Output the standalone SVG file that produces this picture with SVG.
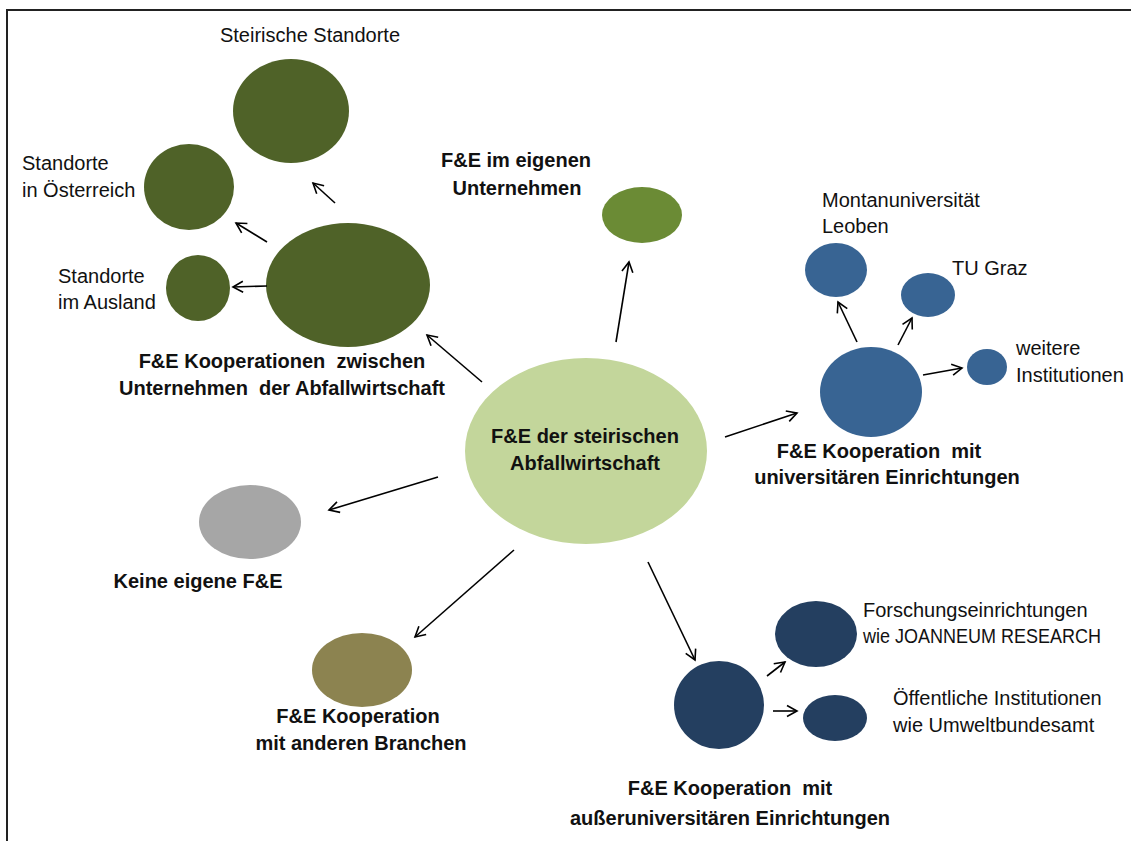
<svg xmlns="http://www.w3.org/2000/svg" width="1131" height="841" viewBox="0 0 1131 841">
<style>
  .t { font-family: "Liberation Sans", Arial, sans-serif; font-size: 20px; fill: #111; }
  .b { font-family: "Liberation Sans", Arial, sans-serif; font-size: 20px; font-weight: bold; fill: #111; }
  .m { text-anchor: middle; }
  .dg { fill: #4f6228; }
  .lg { fill: #6b8b35; }
  .bl { fill: #386493; }
  .nv { fill: #243f60; }
  .conn line { stroke: #000; stroke-width: 1.6; marker-end: url(#ah); }
</style>
<defs>
  <marker id="ah" viewBox="-12 -7 14 14" markerWidth="14" markerHeight="14" refX="0" refY="0" orient="auto" markerUnits="userSpaceOnUse">
    <path d="M-10,-5.5 L0,0 L-10,5.5" fill="none" stroke="#000" stroke-width="1.6"/>
  </marker>
</defs>
<rect x="0" y="0" width="1131" height="841" fill="#fff"/>
<rect x="7" y="10" width="1200" height="900" fill="none" stroke="#222" stroke-width="2"/>

<g id="center">
  <ellipse cx="586" cy="451" rx="121" ry="93" fill="#c3d69b"/>
  <text class="b m" x="585" y="443">F&amp;E der steirischen</text>
  <text class="b m" x="585" y="470">Abfallwirtschaft</text>
</g>

<g id="koop-unternehmen">
  <ellipse class="dg" cx="348" cy="285" rx="82" ry="62"/>
  <text class="b m" x="282" y="368" xml:space="preserve">F&amp;E Kooperationen  zwischen</text>
  <text class="b m" x="282" y="395" xml:space="preserve">Unternehmen  der Abfallwirtschaft</text>
</g>
<g id="steirische">
  <ellipse class="dg" cx="291" cy="111" rx="58" ry="52"/>
  <text class="t m" x="310" y="42">Steirische Standorte</text>
</g>
<g id="oesterreich">
  <ellipse class="dg" cx="189" cy="187" rx="45" ry="43"/>
  <text class="t" x="22" y="170">Standorte</text>
  <text class="t" x="22" y="197">in Österreich</text>
</g>
<g id="ausland">
  <ellipse class="dg" cx="198" cy="288" rx="32" ry="33"/>
  <text class="t" x="58" y="283">Standorte</text>
  <text class="t" x="58" y="309">im Ausland</text>
</g>

<g id="eigenes">
  <ellipse class="lg" cx="642" cy="215" rx="40" ry="28"/>
  <text class="b m" x="516" y="167">F&amp;E im eigenen</text>
  <text class="b m" x="517" y="195">Unternehmen</text>
</g>

<g id="uni">
  <ellipse class="bl" cx="871" cy="392" rx="51" ry="45"/>
  <text class="b m" x="879" y="458" xml:space="preserve">F&amp;E Kooperation  mit</text>
  <text class="b m" x="887" y="484">universitären Einrichtungen</text>
</g>
<g id="montan">
  <ellipse class="bl" cx="836" cy="270" rx="31" ry="27"/>
  <text class="t" x="822" y="207">Montanuniversität</text>
  <text class="t" x="822" y="233">Leoben</text>
</g>
<g id="tugraz">
  <ellipse class="bl" cx="928" cy="295" rx="27" ry="22"/>
  <text class="t" x="952" y="275">TU Graz</text>
</g>
<g id="weitere">
  <ellipse class="bl" cx="987" cy="367" rx="20" ry="18"/>
  <text class="t" x="1016" y="355">weitere</text>
  <text class="t" x="1016" y="382">Institutionen</text>
</g>

<g id="keine">
  <ellipse cx="250" cy="522" rx="51" ry="37" fill="#a6a6a6"/>
  <text class="b m" x="198" y="588">Keine eigene F&amp;E</text>
</g>

<g id="branchen">
  <ellipse cx="362" cy="670" rx="50" ry="37" fill="#8c8350"/>
  <text class="b m" x="358" y="723">F&amp;E Kooperation</text>
  <text class="b m" x="361" y="750">mit anderen Branchen</text>
</g>

<g id="ausseruni">
  <ellipse class="nv" cx="719" cy="705" rx="45" ry="44"/>
  <text class="b m" x="730" y="795" xml:space="preserve">F&amp;E Kooperation  mit</text>
  <text class="b m" x="730" y="825">außeruniversitären Einrichtungen</text>
</g>
<g id="forschung">
  <ellipse class="nv" cx="816" cy="634" rx="41" ry="33"/>
  <text class="t" x="863" y="617">Forschungseinrichtungen</text>
  <text class="t" x="863" y="643" textLength="238" lengthAdjust="spacingAndGlyphs">wie JOANNEUM RESEARCH</text>
</g>
<g id="oeffentlich">
  <ellipse class="nv" cx="835" cy="718" rx="32" ry="23"/>
  <text class="t" x="893" y="705">Öffentliche Institutionen</text>
  <text class="t" x="893" y="732">wie Umweltbundesamt</text>
</g>

<g id="connectors" class="conn">
  <line x1="482" y1="382" x2="427" y2="335"/>
  <line x1="267" y1="286" x2="233" y2="287"/>
  <line x1="267" y1="242" x2="236" y2="223"/>
  <line x1="335" y1="203" x2="313" y2="183"/>
  <line x1="616" y1="342" x2="629" y2="262"/>
  <line x1="725" y1="437" x2="797" y2="413"/>
  <line x1="857" y1="342" x2="838" y2="302"/>
  <line x1="898" y1="345" x2="912" y2="318"/>
  <line x1="923" y1="375" x2="962" y2="368"/>
  <line x1="438" y1="477" x2="329" y2="510"/>
  <line x1="514" y1="550" x2="415" y2="637"/>
  <line x1="648" y1="562" x2="695" y2="660"/>
  <line x1="767" y1="676" x2="785" y2="662"/>
  <line x1="773" y1="711" x2="797" y2="711"/>
</g>
</svg>
